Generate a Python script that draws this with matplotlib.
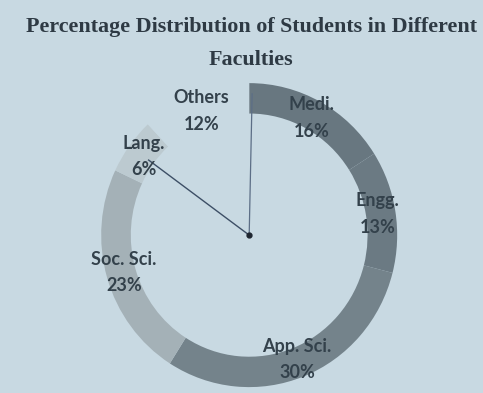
import numpy as np
import matplotlib.pyplot as plt

# faculty shares (percent), clockwise from the top
faculties = ['Medi.', 'Engg.', 'App. Sci.', 'Soc. Sci.', 'Lang.', 'Others']
shares = [16, 13, 30, 23, 6, 12]
colors = ['#687780', '#6b7a83', '#74838b', '#a4b1b7', '#bccad0', '#c8d9e2']

paper = '#c8d9e2'
ink = '#33414b'

fig = plt.figure(figsize=(4.83, 3.93), dpi=100, facecolor=paper)
ax = fig.add_axes([0.2095, 0.0150, 0.6128, 0.7735])
ax.set_facecolor(paper)

labels = ['{}\n{}%'.format(f, s) for f, s in zip(faculties, shares)]
wedges, texts = ax.pie(shares, colors=colors, startangle=90, counterclock=False,
                       labels=labels, labeldistance=0.88,
                       wedgeprops=dict(width=0.2, linewidth=0),
                       textprops=dict(color=ink, fontsize=13, fontweight='bold',
                                      family=['Lato', 'DejaVu Sans'],
                                      ha='center', va='center', linespacing=1.7))
ax.set_aspect('auto')
ax.set_xlim(-1, 1)
ax.set_ylim(-1, 1)

# pen marks: a dot in the middle with strokes up to "Lang." and to the top
lang = wedges[4]
mid = np.deg2rad((lang.theta1 + lang.theta2) / 2)
ax.plot([0, 0.84 * np.cos(mid)], [0, 0.84 * np.sin(mid)], color='#3d4f66', lw=1.0)
ax.plot([0, 0.02], [0, 0.93], color='#5c6e86', lw=0.9)
ax.plot([0], [0], 'o', color='#1e2630', ms=3.5)

title_font = dict(ha='center', va='center', fontsize=15.8, fontweight='bold',
                  family='Liberation Serif', color='#2e3a44')
fig.text(0.52, 0.932, 'Percentage Distribution of Students in Different', **title_font)
fig.text(0.52, 0.848, 'Faculties', **title_font)

fig.savefig('out.png', dpi=100, facecolor=paper)
